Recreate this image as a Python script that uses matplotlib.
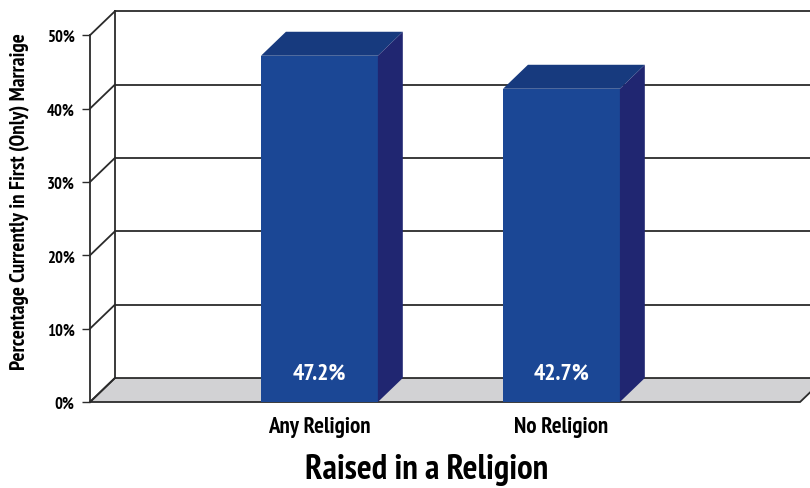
import matplotlib
matplotlib.use("Agg")
import matplotlib.pyplot as plt
from matplotlib.patches import Polygon

categories = ["Any Religion", "No Religion"]
values = [47.2, 42.7]
value_labels = ["47.2%", "42.7%"]
yticks = [0, 10, 20, 30, 40, 50]
ytick_labels = ["0%", "10%", "20%", "30%", "40%", "50%"]
xlabel = "Raised in a Religion"
ylabel = "Percentage Currently in First (Only) Marraige"

FONT = ["PT Sans Narrow", "Roboto Condensed", "Fira Sans Condensed", "Open Sans Condensed",
        "Archivo Narrow", "Liberation Sans Narrow", "DejaVu Sans"]
plt.rcParams["font.family"] = FONT
plt.rcParams["font.weight"] = "bold"

W, H = 810, 489
fig = plt.figure(figsize=(W / 100, H / 100), dpi=100)
ax = fig.add_axes([90 / W, (H - 403) / H, 720 / W, 391 / H])

x_left, x_right = -0.948, 2.027
floor_right = 1.986
ax.set_xlim(x_left, x_right)
ax.set_ylim(0, 53.3)

dx, dy = 0.103, 3.27      # depth offset in data units
bar_w = 0.483
edge = "#2b2b2b"
lw = 1.3

front_c = "#1B4795"
top_c = "#173A7E"
side_c = "#202671"
floor_c = "#D2D2D4"

# floor
ax.add_patch(Polygon([(x_left, 0), (floor_right, 0), (floor_right + dx, dy), (x_left + dx, dy)],
                     closed=True, facecolor=floor_c, edgecolor=edge, lw=lw, clip_on=False, zorder=1))

# back wall gridlines and diagonal connectors
for t in yticks:
    if t > 0:
        ax.plot([x_left + dx, x_right + 0.2], [t + dy, t + dy], color=edge, lw=lw, clip_on=False, zorder=1)
    ax.plot([x_left, x_left + dx], [t, t + dy], color=edge, lw=lw, clip_on=False, zorder=1)
ax.plot([x_left + dx, x_left + dx], [dy, 50 + dy], color=edge, lw=lw, clip_on=False, zorder=1)

# bars
xs = list(range(len(categories)))
bars = ax.bar(xs, values, width=bar_w, color=front_c, zorder=3, linewidth=0)
for x, v in zip(xs, values):
    l, r = x - bar_w / 2, x + bar_w / 2
    ax.add_patch(Polygon([(l, v), (r, v), (r + dx, v + dy), (l + dx, v + dy)],
                         closed=True, facecolor=top_c, edgecolor="none", zorder=3, clip_on=False))
    ax.add_patch(Polygon([(r, 0), (r + dx, dy), (r + dx, v + dy), (r, v)],
                         closed=True, facecolor=side_c, edgecolor="none", zorder=3, clip_on=False))

for x, lab in zip(xs, value_labels):
    ax.text(x, 4.0, lab, ha="center", va="center", color="white",
            fontsize=17, fontweight="bold", zorder=4)

# axes styling
for s in ["top", "right", "bottom"]:
    ax.spines[s].set_visible(False)
ax.spines["left"].set_bounds(0, 50)
ax.spines["left"].set_color(edge)
ax.spines["left"].set_linewidth(lw)
ax.spines["left"].set_zorder(2)
ax.set_yticks(yticks)
ax.set_yticklabels(ytick_labels, fontsize=12, fontweight="bold")
ax.tick_params(axis="y", length=6, width=1.0, color=edge, pad=5)
ax.set_xticks(xs)
ax.set_xticklabels(categories, fontsize=16.5, fontweight="bold")
ax.tick_params(axis="x", length=0, pad=10)
ax.set_ylabel(ylabel, fontsize=15.3, fontweight="bold")
ax.yaxis.set_label_coords(-60 / 720, 0.514)
ax.patch.set_visible(False)

fig.text(427 / W, 1 - 470 / H, xlabel, ha="center", va="center", fontsize=25, fontweight="bold")

fig.savefig("out.png", dpi=100)
